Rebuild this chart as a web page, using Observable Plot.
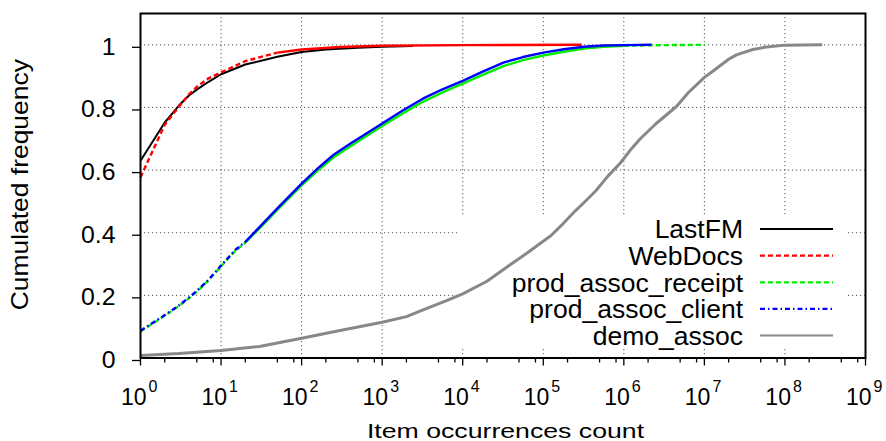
<!DOCTYPE html>
<html>
<head>
<meta charset="utf-8">
<script src="https://cdn.jsdelivr.net/npm/d3@7"></script>
<script src="https://cdn.jsdelivr.net/npm/@observablehq/plot@0.6"></script>
<style>
  html, body { margin: 0; padding: 0; background: #fff; }
  #chart svg { display: block; }
</style>
</head>
<body>
<div id="chart"></div>
<script>
// ---------- data ----------
const seriesNames = ["LastFM", "WebDocs", "prod_assoc_receipt", "prod_assoc_client", "demo_assoc"];

const xMajorExp = [0, 1, 2, 3, 4, 5, 6, 7, 8, 9];
const xMinorMult = [2, 5, 8];
const yTicks = [0, 0.2, 0.4, 0.6, 0.8, 1];
const yGrid = [0.2, 0.4, 0.6, 0.8, 1];
const xLabel = "Item occurrences count";
const yLabel = "Cumulated frequency";

const lastfmX = [1, 2, 3, 4, 5, 7, 10, 20, 50, 100, 200, 500, 1000, 2400];
const lastfmY = [0.63, 0.752, 0.806, 0.838, 0.857, 0.882, 0.906, 0.937, 0.962, 0.977, 0.985, 0.991, 0.994, 0.996];

const webdocsX = [1, 2, 3, 4, 5, 7, 10, 20, 50, 100, 300, 1000, 10000, 300000];
const webdocsY = [0.577, 0.745, 0.803, 0.842, 0.866, 0.893, 0.912, 0.948, 0.975, 0.985, 0.993, 0.997, 0.999, 1.0];

const receiptX = [1, 2, 3, 4, 5, 7, 10, 15, 20, 30, 50, 100, 160, 250, 400, 630, 1000, 1800, 3200, 5600, 10000, 18000, 32000, 56000, 100000, 180000, 320000, 560000, 1000000, 3000000, 10000000];
const receiptY = [0.085, 0.135, 0.166, 0.191, 0.212, 0.248, 0.293, 0.342, 0.368, 0.414, 0.473, 0.551, 0.599, 0.641, 0.675, 0.708, 0.741, 0.781, 0.818, 0.848, 0.876, 0.905, 0.932, 0.951, 0.966, 0.978, 0.988, 0.994, 0.997, 0.999, 1.0];

const clientX = [1, 2, 3, 4, 5, 7, 10, 15, 20, 30, 50, 100, 160, 250, 400, 630, 1000, 1800, 3200, 5600, 10000, 18000, 32000, 56000, 100000, 180000, 320000, 560000, 1000000, 2200000];
const clientY = [0.087, 0.137, 0.168, 0.193, 0.214, 0.25, 0.295, 0.345, 0.371, 0.418, 0.478, 0.557, 0.606, 0.649, 0.684, 0.716, 0.749, 0.79, 0.828, 0.858, 0.885, 0.915, 0.943, 0.961, 0.975, 0.986, 0.994, 0.998, 0.999, 1.0];

const demoX = [1, 3, 10, 30, 100, 300, 1000, 2000, 4000, 6300, 10000, 20000, 40000, 63000, 125000, 178000, 250000, 316000, 450000, 630000, 900000, 1260000, 1600000, 2500000, 4500000, 6300000, 10000000, 12600000, 20000000, 25000000, 40000000, 56000000, 100000000, 290000000];
const demoY = [0.008, 0.014, 0.024, 0.037, 0.063, 0.088, 0.114, 0.132, 0.163, 0.183, 0.205, 0.245, 0.30, 0.335, 0.391, 0.43, 0.47, 0.495, 0.534, 0.58, 0.622, 0.67, 0.70, 0.748, 0.803, 0.847, 0.896, 0.915, 0.954, 0.968, 0.985, 0.992, 0.999, 1.0];

// ---------- chart ----------
const W = 886, H = 441;
const M = {top: 13, right: 21, bottom: 83.5, left: 140};
const FONT = "'Liberation Sans', Arial, Helvetica, sans-serif";

const zip = (xs, ys) => xs.map((x, i) => ({x, y: ys[i]}));
const lastfm = zip(lastfmX, lastfmY);
const webdocs = zip(webdocsX, webdocsY);
const receipt = zip(receiptX, receiptY);
const client = zip(clientX, clientY);
const demo = zip(demoX, demoY);

const styles = [
  {stroke: "#000000", width: 2, dash: null},
  {stroke: "#ff0000", width: 2.4, dash: "5,3"},
  {stroke: "#00ee00", width: 2.4, dash: "5,3"},
  {stroke: "#0000ff", width: 2.4, dash: "5,3,1.5,3"},
  {stroke: "#888888", width: 3, dash: null}
];

const xMajor = xMajorExp.map(e => 10 ** e);
const xGrid = xMajor.slice(1, -1);
const xMinor = xMajorExp.slice(0, -1).flatMap(e => xMinorMult.map(m => m * 10 ** e));

const right = W - M.right, bottom = H - M.bottom;

function line(data, s, dashed) {
  return Plot.line(data, {
    x: d => d.x, y: d => d.y,
    stroke: s.stroke, strokeWidth: s.width,
    strokeDasharray: dashed ? s.dash : null,
    strokeLinejoin: "round", strokeLinecap: "butt"
  });
}

const legendBox = () => d3.create("svg:rect")
  .attr("x", right - 408).attr("y", bottom - 142.5)
  .attr("width", 391).attr("height", 132)
  .attr("fill", "#fff").node();

const legendItems = () => {
  const g = d3.create("svg:g").attr("font-family", FONT).attr("font-size", 25.5).attr("fill", "#000");
  seriesNames.forEach((name, i) => {
    const cy = bottom - 22 - (seriesNames.length - 1 - i) * 26.6;
    g.append("text")
      .attr("transform", `translate(${right - 122},${cy + 9.2}) scale(1.04,1)`)
      .attr("text-anchor", "end")
      .text(name);
    const s = styles[i];
    g.append("line")
      .attr("x1", right - 105).attr("x2", right - 32)
      .attr("y1", cy).attr("y2", cy)
      .attr("stroke", s.stroke).attr("stroke-width", Math.min(s.width, 2.2))
      .attr("stroke-dasharray", s.dash);
  });
  return g.node();
};

const gridStyle = {stroke: "#555", strokeOpacity: 1, strokeWidth: 1, strokeDasharray: "1.2,2.8"};

const chart = Plot.plot({
  width: W, height: H,
  marginTop: M.top, marginRight: M.right, marginBottom: M.bottom, marginLeft: M.left,
  style: {fontFamily: FONT, background: "#fff", color: "#000", overflow: "visible"},
  x: {type: "log", domain: [1, 1e9]},
  y: {domain: [0, 1.1]},
  marks: [
    Plot.gridY(yGrid, gridStyle),
    Plot.gridX(xGrid, gridStyle),
    legendBox,
    line(lastfm, styles[0], false),
    line(webdocs.filter(d => d.x <= 50), styles[1], true),
    line(webdocs.filter(d => d.x >= 50), styles[1], false),
    line(receipt.filter(d => d.x <= 20), styles[2], true),
    line(receipt.filter(d => d.x >= 20 && d.x <= 1e6), styles[2], false),
    line(receipt.filter(d => d.x >= 1e6), styles[2], true),
    line(client.filter(d => d.x <= 20), styles[3], true),
    line(client.filter(d => d.x >= 20), styles[3], false),
    line(demo, styles[4], false),
    Plot.frame({stroke: "#000", strokeWidth: 2}),
    Plot.axisY(yTicks, {tickSize: 8, tickPadding: 17, fontSize: 23, dy: 2.5, label: null, strokeWidth: 1.3,
      tickFormat: d => d === 0 ? "0" : d === 1 ? "1" : d.toFixed(1)}),
    Plot.axisX(xMajor, {tickSize: 8, tickFormat: () => "", label: null, strokeWidth: 1.3}),
    Plot.axisX(xMinor, {tickSize: 5, tickFormat: () => "", label: null, strokeWidth: 1.3}),
    Plot.text(xMajorExp, {x: e => 10 ** e, frameAnchor: "bottom", text: () => "10", textAnchor: "end", lineAnchor: "bottom", dx: 6, dy: 47, fontSize: 23}),
    Plot.text(xMajorExp, {x: e => 10 ** e, frameAnchor: "bottom", text: e => String(e), textAnchor: "start", lineAnchor: "bottom", dx: 8, dy: 34, fontSize: 16}),
    Plot.text([xLabel], {text: d => d, frameAnchor: "bottom", textAnchor: "middle", lineAnchor: "bottom", dx: 2.5, dy: 79.5, fontSize: 21}),
    Plot.text([yLabel], {text: d => d, frameAnchor: "left", textAnchor: "middle", lineAnchor: "middle", rotate: -90, dx: -119.5, dy: -1, fontSize: 23}),
    legendItems
  ]
});

// widen the axis texts a little to match the reference typeface proportions
d3.select(chart).selectAll("text").each(function () {
  const t = this.textContent;
  let sx = null;
  if (t === xLabel) sx = 1.27;
  else if (t === yLabel) sx = 1.15;
  else if (/^[01](\.\d)?$/.test(t) && this.closest("g[aria-label='y-axis tick label']")) sx = 1.08;
  if (sx) {
    const tr = this.getAttribute("transform") || "";
    this.setAttribute("transform", `${tr} scale(${sx},1)`);
  }
});

document.getElementById("chart").appendChild(chart);
</script>
</body>
</html>
